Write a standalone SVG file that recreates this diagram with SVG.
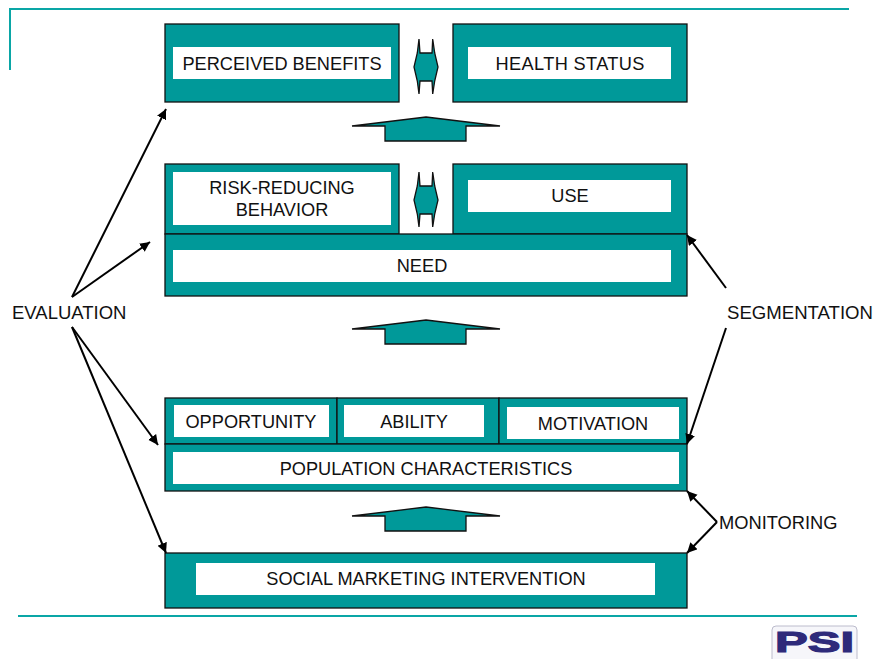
<svg xmlns="http://www.w3.org/2000/svg" width="874" height="659" viewBox="0 0 874 659">
<style>
.b{fill:#009999;stroke:#111;stroke-width:1.3}
.w{fill:#fff}
.t{font-family:"Liberation Sans",Arial,sans-serif;font-size:18.2px;fill:#111;text-anchor:middle}
.l{text-anchor:start;font-size:18.5px}
.r{fill:none;stroke:#0aa6a6;stroke-width:2}
.c{stroke:#000;stroke-width:2;fill:none;marker-end:url(#a)}
</style>
<defs>
<marker id="a" markerUnits="userSpaceOnUse" markerWidth="12" markerHeight="12" refX="10" refY="5" orient="auto"><path d="M0 0L10 5L0 10z" fill="#000"/></marker>
<path id="up" class="b" d="M0 0L74 9H40V24H-41V9H-74z"/>
<path id="hex" class="b" d="M-7 0L-8.7 14L-12 28L-8.7 42L-7 55L-6 42H6L6.7 55L8.7 42L12 28L8.7 14L6.7 0L6 14H-6z"/>
</defs>
<g id="frame"><path class="r" d="M10 70V9H849"/><path class="r" d="M18 616H857"/></g>
<g id="perceived-benefits"><rect class="b" x="165" y="24" width="234" height="78"/><rect class="w" x="173" y="47" width="218" height="32"/><text class="t" x="282" y="70">PERCEIVED BENEFITS</text></g>
<g id="health-status"><rect class="b" x="453" y="24" width="234" height="78"/><rect class="w" x="468" y="47" width="203" height="32"/><text class="t" x="570" y="70" textLength="149" lengthAdjust="spacing">HEALTH STATUS</text></g>
<g id="risk-reducing"><rect class="b" x="165" y="164" width="234" height="70"/><rect class="w" x="173" y="172" width="218" height="53"/><text class="t" x="282" y="194">RISK-REDUCING</text><text class="t" x="282" y="216">BEHAVIOR</text></g>
<g id="use"><rect class="b" x="453" y="164" width="234" height="70"/><rect class="w" x="468" y="180" width="203" height="32"/><text class="t" x="570" y="202">USE</text></g>
<g id="need"><rect class="b" x="165" y="234" width="522" height="62"/><rect class="w" x="173" y="250" width="498" height="32"/><text class="t" x="422" y="272">NEED</text></g>
<g id="opportunity"><rect class="b" x="165" y="398" width="172" height="46"/><rect class="w" x="174" y="405" width="155" height="32"/><text class="t" x="251" y="428">OPPORTUNITY</text></g>
<g id="ability"><rect class="b" x="337" y="398" width="162" height="46"/><rect class="w" x="344" y="405" width="140" height="32"/><text class="t" x="414" y="428">ABILITY</text></g>
<g id="motivation"><rect class="b" x="499" y="398" width="188" height="46"/><rect class="w" x="507" y="407" width="172" height="32"/><text class="t" x="593" y="430">MOTIVATION</text></g>
<g id="population"><rect class="b" x="165" y="444" width="522" height="47"/><rect class="w" x="173" y="452" width="506" height="32"/><text class="t" x="426" y="475">POPULATION CHARACTERISTICS</text></g>
<g id="intervention"><rect class="b" x="165" y="553" width="522" height="55"/><rect class="w" x="196" y="563" width="459" height="32"/><text class="t" x="426" y="585">SOCIAL MARKETING INTERVENTION</text></g>
<g id="evaluation"><text class="t l" x="12" y="319">EVALUATION</text></g>
<g id="segmentation"><text class="t l" x="727" y="319" style="font-size:18.6px">SEGMENTATION</text></g>
<g id="monitoring"><text class="t l" x="719" y="529" style="font-size:18.3px">MONITORING</text></g>
<g id="logo"><path d="M772 659V630Q772 626 776 626H853Q857 626 857 630V659" fill="#f6f6fa" stroke="#bcbccc" stroke-width="1"/><text x="775" y="652" font-family="'Liberation Sans',Arial,sans-serif" font-weight="bold" font-size="30" fill="#2e2a7a" stroke="#2e2a7a" stroke-width="1.2" textLength="79" lengthAdjust="spacingAndGlyphs">PSI</text></g>
<g id="connectors">
<use href="#hex" x="426" y="39"/><use href="#hex" x="426" y="172"/>
<use href="#up" x="426" y="117"/><use href="#up" x="426" y="320"/><use href="#up" x="426" y="507"/>
<path class="c" d="M72 297L166 109"/><path class="c" d="M72 297L150 242"/><path class="c" d="M72 327L158 445"/><path class="c" d="M72 327L166 553"/>
<path class="c" d="M726 288L687 235"/><path class="c" d="M726 328L687 444"/>
<path class="c" d="M717 522L687 491"/><path class="c" d="M717 522L687 553"/>
</g>
</svg>
